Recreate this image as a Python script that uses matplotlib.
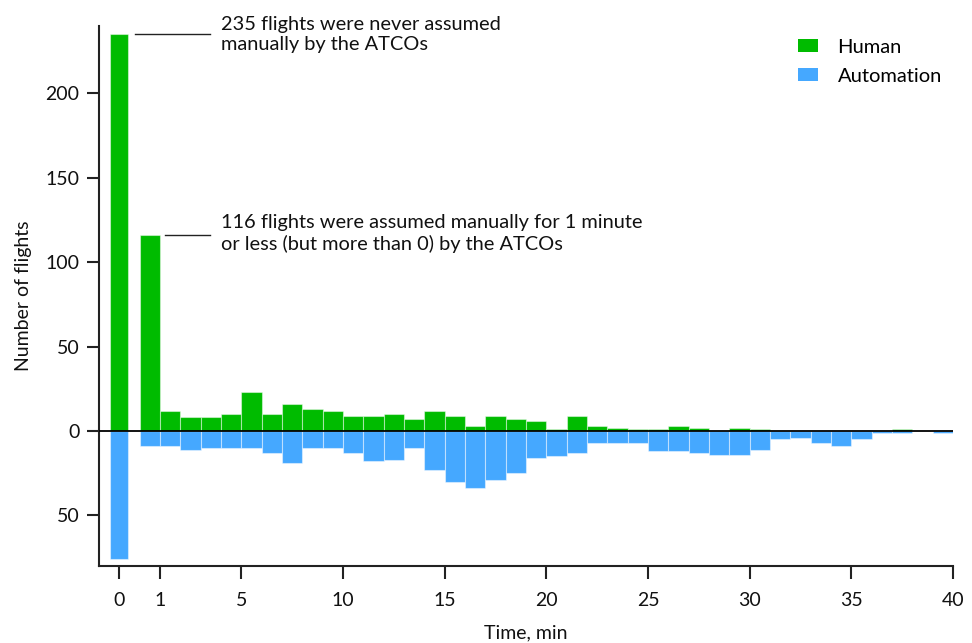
import numpy as np
import matplotlib
matplotlib.use("Agg")
import matplotlib.pyplot as plt
from matplotlib.patches import Patch

plt.rcParams['font.family'] = ['Lato', 'DejaVu Sans']

# flights never assumed manually (time = 0)
never_human = 235
never_auto = 76

# one-minute bins: [0,1), [1,2), ... [39,40)
bin_starts = list(range(0, 40))
human = [116, 12, 8, 8, 10, 23, 10, 16, 13, 12,
         9, 9, 10, 7, 12, 9, 3, 9, 7, 6,
         1, 9, 3, 2, 1, 1, 3, 2, 0, 2,
         1, 0, 0, 0, 0, 0, 0, 1, 0, 0]
automation = [9, 9, 11, 10, 10, 10, 13, 19, 10, 10,
              13, 18, 17, 10, 23, 30, 34, 29, 25, 16,
              15, 13, 7, 7, 7, 12, 12, 13, 14, 14,
              11, 5, 4, 7, 9, 5, 1, 1, 0, 1]

xtick_pos = [-1, 1, 5, 10, 15, 20, 25, 30, 35, 40]
xtick_labels = ['0', '1', '5', '10', '15', '20', '25', '30', '35', '40']
ytick_pos = [-50, 0, 50, 100, 150, 200]

GREEN = '#00bb00'
BLUE = '#45a8ff'
EDGE = (1, 1, 1, 0.45)

fig = plt.figure(figsize=(9.72, 6.43), dpi=100)
ax = fig.add_axes([0.1019, 0.1198, 0.8786, 0.8398])

# time = 0 column, drawn left of the 1-minute scale
ax.bar(-1, never_human, width=0.88, color=GREEN, edgecolor=EDGE, lw=0.8)
ax.bar(-1, -never_auto, width=0.88, color=BLUE, edgecolor=EDGE, lw=0.8)

ax.bar(bin_starts, human, width=1, align='edge', color=GREEN, edgecolor=EDGE, lw=0.8)
ax.bar(bin_starts, [-v for v in automation], width=1, align='edge',
       color=BLUE, edgecolor=EDGE, lw=0.8)

ax.axhline(0, color='black', lw=1.3, zorder=3)

# annotations
ax.plot([-0.23, 3.46], [never_human, never_human], color='#222222', lw=1)
ax.text(4.0, never_human, '235 flights were never assumed\nmanually by the ATCOs',
        va='center', ha='left', fontsize=14.4, color='#111111', linespacing=1.2)
ax.plot([1.25, 3.46], [human[0], human[0]], color='#222222', lw=1)
ax.text(4.0, human[0] + 1, '116 flights were assumed manually for 1 minute\n'
        'or less (but more than 0) by the ATCOs',
        va='center', ha='left', fontsize=14.4, color='#111111', linespacing=1.2)

ax.set_xlim(-2, 40)
ax.set_ylim(-80, 240)
ax.set_xticks(xtick_pos)
ax.set_xticklabels(xtick_labels)
ax.set_yticks(ytick_pos)
ax.set_yticklabels([str(abs(v)) for v in ytick_pos])

for s in ['top', 'right']:
    ax.spines[s].set_visible(False)
for s in ['left', 'bottom']:
    ax.spines[s].set_color('#222222')
    ax.spines[s].set_linewidth(1.5)
ax.tick_params(axis='both', length=9, width=1.5, color='#222222',
               labelsize=14, labelcolor='#111111')
ax.tick_params(axis='x', pad=10)
ax.tick_params(axis='y', pad=5)

ax.set_xlabel('Time, min', fontsize=14, color='#111111', labelpad=11)
ax.set_ylabel('Number of flights', fontsize=14, color='#111111', labelpad=10)

handles = [Patch(facecolor=GREEN, label='Human'),
           Patch(facecolor=BLUE, label='Automation')]
ax.legend(handles=handles, loc='upper left', bbox_to_anchor=(0.807, 0.995),
          frameon=False, fontsize=14.5, borderpad=0, handlelength=1.0,
          handleheight=0.6, handletextpad=0.95, labelspacing=0.6)

fig.savefig('out.png', dpi=100)
